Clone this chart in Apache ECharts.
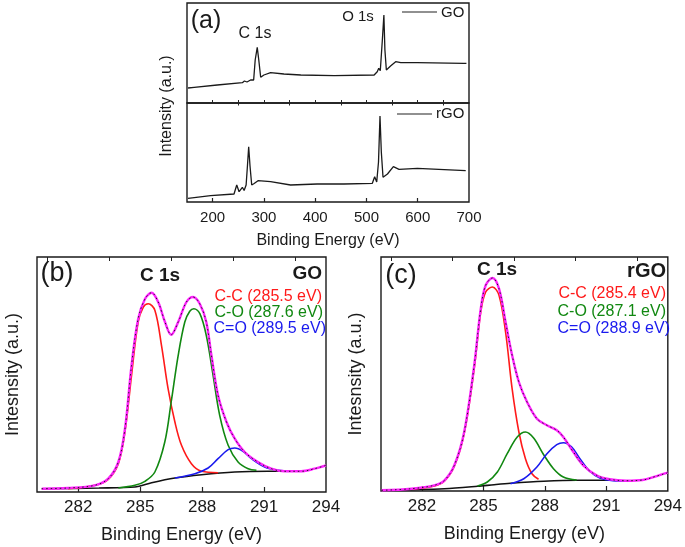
<!DOCTYPE html>
<html>
<head>
<meta charset="utf-8">
<script src="https://cdn.jsdelivr.net/npm/echarts@6/dist/echarts.min.js"></script>
<style>html,body{margin:0;padding:0;background:#fff}#c{width:685px;height:547px}</style>
</head>
<body>
<div id="c"></div>
<script>
// ---- Panel (a): survey spectra ----
const goSurveyEV = [152,164,209,258,262,267,274,277,280,283,287,290,293.7,300,313,339,372,437,515,521,524,527,531,534,536,538.8,547,557,567,599,690,695];
const goSurveyI  = [15,15.7,18,20.3,22,21,23,24.7,23,43,55.7,43,25.7,28,30.3,29,28,27.3,28,31.3,34.7,32.3,63,88,53,33,37,41.3,40.3,40.3,39.7,39.7];
const rgoSurveyEV = [152,196,241.7,247,251.6,258,261.4,265.3,268,270.3,272.9,276.2,281,288.5,313,352,404,456,511.5,516,520,523.5,526.4,529,532.3,541,552.5,563.5,599.3,693.6];
const rgoSurveyI  = [3.7,6.3,8,17,10.3,14.7,11.5,17,37,55.3,36,17,18.5,21.3,20.3,17,18,18,18.7,25.3,20,40,86,50,24.7,28,35.3,32.7,33.7,31.3];
const surveyTickLabels = [200,300,400,500,600,700];
const surveyMajorTicks = [200,300,400,500,600];
const surveyMinorTicks = [250,350,450,550,650];
const surveyTopTicks = [200,250,300,350,400,450,500,550,600,650];

// ---- Panel (b): GO C 1s ----
const bDataEV = [280.23,281.5,282.8,283.45,283.94,284.26,284.58,284.9,285.23,285.55,285.87,286.2,286.5,286.84,287.24,287.56,287.89,288.2,288.45,288.77,289.18,289.58,290.06,290.7,291.35,292,292.8,293.45,294];
const bDataI  = [3.3,4,6.7,13.3,30,63,126.7,173,193,199.3,190,170,157.3,170,190,195,188,170,136.7,96.7,70,53.3,40,30,23.3,20.7,20.7,23.3,26.7];
const bCCEV = [281.5,282.81,283.45,283.94,284.26,284.58,284.9,285.15,285.39,285.71,286.03,286.35,286.68,287,287.48,287.97,288.77];
const bCCI  = [3.3,6.7,12.7,28.3,60,116.7,170,185,188.3,181.7,146.7,103.3,70,46.7,28.3,20.7,19.3];
const bCOEV = [283.94,284.74,285.23,285.71,286.19,286.5,286.84,287.16,287.4,287.6,287.89,288.2,288.53,288.85,289.26,289.74,290.23,290.63];
const bCOI  = [4,6.7,10.7,20,50,90,136.7,170,180.7,183.3,178.3,156.7,116.7,76.7,46.7,30,23.3,21.7];
const bCdOEV = [286.68,287.65,288.29,288.77,289.26,289.58,289.98,290.39,291.03,291.68,292.32];
const bCdOI  = [14,18.3,24,33.3,42.3,44,40.7,33.3,25,21.7,20.7];
const bBgEV = [280.23,283,284.74,285.55,286.68,287.97,289.58,291.19,292];
const bBgI  = [3.3,4,5,9.3,14,17.3,20,20.7,20.7];

// ---- Panel (c): rGO C 1s ----
const cDataEV = [280.03,281.48,282.6,283.1,283.58,284.06,284.55,284.87,285.11,285.44,285.76,286.08,286.4,286.73,287.13,287.61,288.1,288.58,288.9,289.39,289.87,290.52,291.16,291.97,292.77,293.42,294];
const cDataI  = [0.7,2.3,5.7,10.7,25.7,59,125.7,182.3,205.7,213,202.3,169,135.7,109,89,72.3,65.7,60.7,54,39,25.7,15.7,11.7,10.3,11,14.7,18.3];
const cCCEV = [281.48,282.61,283.1,283.58,284.06,284.55,284.87,285.11,285.44,285.76,286.08,286.4,286.73,287.05,287.37,287.69];
const cCCI  = [1.7,5,10,24.7,57.3,122.3,179,199,204,195.7,159,102.3,59,32.3,17.3,11.7];
const cCOEV = [284.71,285.19,285.68,286.16,286.65,287.05,287.45,287.94,288.42,288.9,289.55];
const cCOI  = [5,9,19,37.3,54,59,53,36.3,22.3,14,11];
const cCdOEV = [286.32,286.97,287.61,288.1,288.58,288.9,289.31,289.71,290.19,290.68,291.32,291.97];
const cCdOI  = [7.3,12.3,24,37.3,46.3,48.3,44,32.3,19.7,13,10.3,10];
const cBgEV = [280.03,283.1,284.71,285.52,286.32,287.94,289.55,291.16];
const cBgI  = [0.7,2.3,4.7,6.3,7.7,9.7,10.7,10.7];

const hrTickLabels = [282,285,288,291,294];
const hrMajorTicks = [282,285,288,291];
const hrMinorTicks = [280.5,283.5,286.5,289.5,292.5];

const bLegend = ['C-C (285.5 eV)','C-O (287.6 eV)','C=O (289.5 eV)'];
const cLegend = ['C-C (285.4 eV)','C-O (287.1 eV)','C=O (288.9 eV)'];

const FONT = 'Liberation Sans, Arial, sans-serif';
const RED = '#ff1a1a', GREEN = '#118811', BLUE = '#1a1aee', MAGENTA = '#ff22ff';

function zip(xs, ys){ return xs.map((x,i)=>[x, ys[i]]); }

const chart = echarts.init(document.getElementById('c'), null, {renderer:'canvas'});

function gridDef(left, top, width, height){
  return {left, top, width, height, show:true, borderColor:'#1a1a1a', borderWidth:1.4, backgroundColor:'transparent', containLabel:false};
}
function xAx(gi, min, max, opts){
  return Object.assign({
    type:'value', gridIndex:gi, min, max,
    axisLine:{show:false}, splitLine:{show:false},
    axisTick:{show:false}, axisLabel:{show:false}
  }, opts);
}
function yAx(gi, max, opts){
  return Object.assign({
    type:'value', gridIndex:gi, min:0, max,
    axisLine:{show:false}, splitLine:{show:false},
    axisTick:{show:false}, axisLabel:{show:false}
  }, opts||{});
}
function line(xi, yi, xs, ys, color, width, smooth, extra){
  return Object.assign({
    type:'line', xAxisIndex:xi, yAxisIndex:yi, data:zip(xs, ys),
    showSymbol:false, symbol:'none', smooth: smooth, clip:true,
    lineStyle:{color, width}, animation:false, silent:true
  }, extra||{});
}

const option = {
  animation:false,
  backgroundColor:'#fff',
  grid:[
    gridDef(187, 3, 282, 100),
    gridDef(187, 103, 282, 99),
    gridDef(37, 257, 289, 235),
    gridDef(381, 257, 290, 234)
  ],
  xAxis:[
    xAx(0,150,700,{axisTick:{show:true, inside:true, length:3, lineStyle:{color:'#222', width:1}, customValues:surveyTopTicks}}),
    xAx(1,150,700,{
      axisTick:{show:true, inside:true, length:4, lineStyle:{color:'#222', width:1.2}, customValues:surveyMajorTicks},
      axisLabel:{show:true, customValues:surveyTickLabels, fontSize:15, color:'#1a1a1a', fontFamily:FONT, margin:8},
      name:'Binding Energy (eV)', nameLocation:'middle', nameGap:31,
      nameTextStyle:{fontSize:16, color:'#1a1a1a', fontFamily:FONT}
    }),
    xAx(1,150,700,{axisTick:{show:true, inside:true, length:2.5, lineStyle:{color:'#222', width:1}, customValues:surveyMinorTicks}}),
    xAx(2,280,294,{
      axisTick:{show:true, inside:true, length:5, lineStyle:{color:'#222', width:1.2}, customValues:hrMajorTicks},
      axisLabel:{show:true, customValues:hrTickLabels, fontSize:17, color:'#1a1a1a', fontFamily:FONT, margin:7},
      name:'Binding Energy (eV)', nameLocation:'middle', nameGap:34,
      nameTextStyle:{fontSize:18, color:'#1a1a1a', fontFamily:FONT}
    }),
    xAx(2,280,294,{axisTick:{show:true, inside:true, length:4, lineStyle:{color:'#222', width:1}, customValues:hrMinorTicks}}),
    xAx(3,280,294,{
      axisTick:{show:true, inside:true, length:5, lineStyle:{color:'#222', width:1.2}, customValues:hrMajorTicks},
      axisLabel:{show:true, customValues:hrTickLabels, fontSize:17, color:'#1a1a1a', fontFamily:FONT, margin:7},
      name:'Binding Energy (eV)', nameLocation:'middle', nameGap:34,
      nameTextStyle:{fontSize:18, color:'#1a1a1a', fontFamily:FONT}
    }),
    xAx(3,280,294,{axisTick:{show:true, inside:true, length:4, lineStyle:{color:'#222', width:1}, customValues:hrMinorTicks}})
  ],
  yAxis:[
    yAx(0,100),
    yAx(1,99),
    yAx(2,235,{name:'Intesnsity (a.u.)', nameLocation:'middle', nameGap:15, nameTextStyle:{fontSize:18, color:'#1a1a1a', fontFamily:FONT}}),
    yAx(3,234,{name:'Intesnsity (a.u.)', nameLocation:'middle', nameGap:16, nameTextStyle:{fontSize:18, color:'#1a1a1a', fontFamily:FONT}})
  ],
  series:[
    line(0,0,goSurveyEV,goSurveyI,'#1a1a1a',1.3,false),
    line(1,1,rgoSurveyEV,rgoSurveyI,'#1a1a1a',1.3,false),
    // (b)
    line(3,2,bBgEV,bBgI,'#111',1.6,0.3),
    line(3,2,bCCEV,bCCI,RED,1.6,0.35),
    line(3,2,bCOEV,bCOI,GREEN,1.6,0.35),
    line(3,2,bCdOEV,bCdOI,BLUE,1.6,0.35),
    line(3,2,bDataEV,bDataI,MAGENTA,2.4,0.35),
    line(3,2,bDataEV,bDataI,'#111',1,0.35,{lineStyle:{color:'#222', width:1, type:[1.5,3]}}),
    // (c)
    line(5,3,cBgEV,cBgI,'#111',1.6,0.3),
    line(5,3,cCCEV,cCCI,RED,1.6,0.35),
    line(5,3,cCOEV,cCOI,GREEN,1.6,0.35),
    line(5,3,cCdOEV,cCdOI,BLUE,1.6,0.35),
    line(5,3,cDataEV,cDataI,MAGENTA,2.4,0.35),
    line(5,3,cDataEV,cDataI,'#111',1,0.35,{lineStyle:{color:'#222', width:1, type:[1.5,3]}})
  ],
  graphic:[
    // panel (a)
    {type:'text', x:167, y:106, rotation:Math.PI/2, style:{text:'Intensity (a.u.)', font:'16px '+FONT, fill:'#1a1a1a', textAlign:'center', textVerticalAlign:'middle'}},
    {type:'text', x:206, y:21, style:{text:'(a)', font:'25px '+FONT, fill:'#1a1a1a', textAlign:'center', textVerticalAlign:'middle'}},
    {type:'text', x:255, y:34, style:{text:'C 1s', font:'16px '+FONT, fill:'#1a1a1a', textAlign:'center', textVerticalAlign:'middle'}},
    {type:'text', x:358, y:17, style:{text:'O 1s', font:'15px '+FONT, fill:'#1a1a1a', textAlign:'center', textVerticalAlign:'middle'}},
    {type:'line', shape:{x1:402, y1:12, x2:437, y2:12}, style:{stroke:'#222', lineWidth:1.2}},
    {type:'text', x:441, y:13, style:{text:'GO', font:'15px '+FONT, fill:'#1a1a1a', textAlign:'left', textVerticalAlign:'middle'}},
    {type:'line', shape:{x1:397, y1:114, x2:432, y2:114}, style:{stroke:'#222', lineWidth:1.2}},
    {type:'text', x:436, y:114, style:{text:'rGO', font:'15px '+FONT, fill:'#1a1a1a', textAlign:'left', textVerticalAlign:'middle'}},
    // panel (b)
    {type:'text', x:57, y:274, style:{text:'(b)', font:'27px '+FONT, fill:'#1a1a1a', textAlign:'center', textVerticalAlign:'middle'}},
    {type:'text', x:160, y:276, style:{text:'C 1s', font:'bold 19px '+FONT, fill:'#1a1a1a', textAlign:'center', textVerticalAlign:'middle'}},
    {type:'text', x:322, y:274, style:{text:'GO', font:'bold 19px '+FONT, fill:'#1a1a1a', textAlign:'right', textVerticalAlign:'middle'}},
    {type:'text', x:322, y:297, style:{text:bLegend[0], font:'16px '+FONT, fill:RED, textAlign:'right', textVerticalAlign:'middle'}},
    {type:'text', x:323, y:313, style:{text:bLegend[1], font:'16px '+FONT, fill:GREEN, textAlign:'right', textVerticalAlign:'middle'}},
    {type:'text', x:326, y:329, style:{text:bLegend[2], font:'16px '+FONT, fill:BLUE, textAlign:'right', textVerticalAlign:'middle'}},
    // panel (c)
    {type:'text', x:401, y:276, style:{text:'(c)', font:'27px '+FONT, fill:'#1a1a1a', textAlign:'center', textVerticalAlign:'middle'}},
    {type:'text', x:497, y:270, style:{text:'C 1s', font:'bold 19px '+FONT, fill:'#1a1a1a', textAlign:'center', textVerticalAlign:'middle'}},
    {type:'text', x:666, y:271, style:{text:'rGO', font:'bold 20px '+FONT, fill:'#1a1a1a', textAlign:'right', textVerticalAlign:'middle'}},
    {type:'text', x:666, y:294, style:{text:cLegend[0], font:'16px '+FONT, fill:RED, textAlign:'right', textVerticalAlign:'middle'}},
    {type:'text', x:666, y:312, style:{text:cLegend[1], font:'16px '+FONT, fill:GREEN, textAlign:'right', textVerticalAlign:'middle'}},
    {type:'text', x:670, y:329, style:{text:cLegend[2], font:'16px '+FONT, fill:BLUE, textAlign:'right', textVerticalAlign:'middle'}}
  ]
};
chart.setOption(option);
</script>
</body>
</html>
